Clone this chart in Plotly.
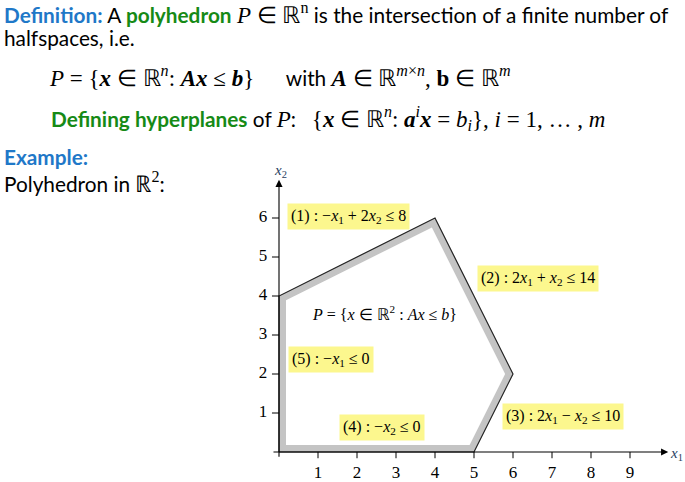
import plotly.graph_objects as go

# ---- data ----
vertex_x = [0, 0, 4, 6, 5]
vertex_y = [0, 4, 6, 2, 0]
x_ticks = [1, 2, 3, 4, 5, 6, 7, 8, 9]
y_ticks = [1, 2, 3, 4, 5, 6]
constraint_labels = [
    "(1) : −<i>x</i><sub>1</sub> + 2<i>x</i><sub>2</sub> ≤ 8",
    "(2) : 2<i>x</i><sub>1</sub> + <i>x</i><sub>2</sub> ≤ 14",
    "(3) : 2<i>x</i><sub>1</sub> − <i>x</i><sub>2</sub> ≤ 10",
    "(4) : −<i>x</i><sub>2</sub> ≤ 0",
    "(5) : −<i>x</i><sub>1</sub> ≤ 0",
]
label_spots = [(1.77, 6.05), (6.64, 4.46), (7.28, 0.92), (2.64, 0.62), (1.33, 2.36)]

BLUE = "#1F78C8"
GREEN = "#168A16"
SERIF = "Liberation Serif"
SANS = "Lato"
W, H = 685, 482
ORIGIN_PX = (279, 452)
UNIT = 39.0


def inset(xs, ys, d):
    # shift every edge of the (clockwise) polygon inward by d, intersect neighbours
    n = len(xs)
    lines = []
    for i in range(n):
        x0, y0 = xs[i], ys[i]
        x1, y1 = xs[(i + 1) % n], ys[(i + 1) % n]
        dx, dy = x1 - x0, y1 - y0
        ln = (dx * dx + dy * dy) ** 0.5
        nx, ny = dy / ln, -dx / ln
        lines.append((x0 + d * nx, y0 + d * ny, dx, dy))
    out_x, out_y = [], []
    for i in range(n):
        ax, ay, adx, ady = lines[i - 1]
        bx, by, bdx, bdy = lines[i]
        den = adx * bdy - ady * bdx
        t = ((bx - ax) * bdy - (by - ay) * bdx) / den
        out_x.append(ax + t * adx)
        out_y.append(ay + t * ady)
    return out_x, out_y


fig = go.Figure()

# gray band on the inside of the boundary
fig.add_trace(go.Scatter(x=vertex_x + vertex_x[:1], y=vertex_y + vertex_y[:1],
                         fill="toself", fillcolor="#C4C4C4", mode="none",
                         hoverinfo="skip", showlegend=False))
ix, iy = inset(vertex_x, vertex_y, 0.18)
fig.add_trace(go.Scatter(x=ix + ix[:1], y=iy + iy[:1],
                         fill="toself", fillcolor="white", mode="none",
                         hoverinfo="skip", showlegend=False))
fig.add_trace(go.Scatter(x=vertex_x + vertex_x[:1], y=vertex_y + vertex_y[:1],
                         mode="lines", line=dict(color="#222", width=1.2),
                         hoverinfo="skip", showlegend=False))

# ticks
tx, ty = [], []
for t in x_ticks:
    tx += [t, t, None]
    ty += [0, -0.16, None]
for t in y_ticks:
    tx += [0, -0.18, None]
    ty += [t, t, None]
fig.add_trace(go.Scatter(x=tx, y=ty, mode="lines", line=dict(color="black", width=1),
                         hoverinfo="skip", showlegend=False))
fig.add_trace(go.Scatter(x=x_ticks, y=[-0.57] * len(x_ticks), mode="text",
                         text=[str(t) for t in x_ticks],
                         textfont=dict(family=SERIF, size=17, color="black"),
                         hoverinfo="skip", showlegend=False))
fig.add_trace(go.Scatter(x=[-0.3] * len(y_ticks), y=y_ticks, mode="text",
                         text=[str(t) for t in y_ticks], textposition="middle left",
                         textfont=dict(family=SERIF, size=17, color="black"),
                         hoverinfo="skip", showlegend=False))

ann = []
# axes with arrow heads
ann.append(dict(x=9.98, y=0, ax=-0.18, ay=0, xref="x", yref="y", axref="x", ayref="y",
                text="", showarrow=True, arrowhead=2, arrowsize=1.3, arrowwidth=1.1,
                arrowcolor="black"))
ann.append(dict(x=0, y=6.98, ax=0, ay=-0.16, xref="x", yref="y", axref="x", ayref="y",
                text="", showarrow=True, arrowhead=2, arrowsize=1.3, arrowwidth=1.1,
                arrowcolor="black"))
ann.append(dict(x=10.2, y=-0.05, xref="x", yref="y", showarrow=False,
                text="<i>x</i><sub>1</sub>", font=dict(family=SERIF, size=15)))
ann.append(dict(x=0.05, y=7.2, xref="x", yref="y", showarrow=False,
                text="<i>x</i><sub>2</sub>", font=dict(family=SERIF, size=15)))

for txt, (lx, ly) in zip(constraint_labels, label_spots):
    ann.append(dict(x=lx, y=ly, xref="x", yref="y", showarrow=False, text=txt,
                    bgcolor="#FCF78E", borderpad=3,
                    font=dict(family=SERIF, size=16, color="black")))
ann.append(dict(x=2.71, y=3.57, xref="x", yref="y", showarrow=False,
                text="<i>P</i> = {<i>x</i> ∈ ℝ<sup>2</sup> : <i>Ax</i> ≤ <i>b</i>}",
                font=dict(family=SERIF, size=16, color="black")))


def m(s):
    return f'<span style="font-family:{SERIF};font-size:23px">{s}</span>'


slide_lines = [
    (2, 13, f'<b><span style="color:{BLUE}">Definition:</span></b> A '
            f'<b><span style="color:{GREEN}">polyhedron</span></b> '
            + m("<i>P</i> ∈ ℝ<sup>n</sup>") + " is the intersection of a finite number of"),
    (2, 38, "halfspaces, i.e."),
    (47, 76, m("<i>P</i> = {<b><i>x</i></b> ∈ ℝ<sup><i>n</i></sup>: <b><i>Ax</i></b> ≤ <b><i>b</i></b>}")
     + "      with " + m("<b><i>A</i></b> ∈ ℝ<sup><i>m</i>×<i>n</i></sup>, <b>b</b> ∈ ℝ<sup><i>m</i></sup>")),
    (49, 118, f'<b><span style="color:{GREEN}">Defining hyperplanes</span></b> of '
              + m("<i>P</i>") + ":   "
              + m("{<b><i>x</i></b> ∈ ℝ<sup><i>n</i></sup>: <b><i>a</i></b><sup><i>i</i></sup><b><i>x</i></b> = <i>b</i><sub><i>i</i></sub>}, <i>i</i> = 1, … , <i>m</i>")),
    (2, 157, f'<b><span style="color:{BLUE}">Example:</span></b>'),
    (2, 182, "Polyhedron in " + m("ℝ<sup>2</sup>") + ":"),
]
for px, py, txt in slide_lines:
    ann.append(dict(x=px / W, y=1 - py / H, xref="paper", yref="paper",
                    xanchor="left", yanchor="middle", showarrow=False, text=txt,
                    font=dict(family=SANS, size=20.8, color="black")))

fig.update_layout(
    width=W, height=H,
    margin=dict(l=0, r=0, t=0, b=0),
    paper_bgcolor="white", plot_bgcolor="white",
    xaxis=dict(range=[-ORIGIN_PX[0] / UNIT, (W - ORIGIN_PX[0]) / UNIT], visible=False,
               fixedrange=True),
    yaxis=dict(range=[-(H - ORIGIN_PX[1]) / UNIT, ORIGIN_PX[1] / UNIT], visible=False,
               fixedrange=True),
    annotations=ann,
    showlegend=False,
)

# drop the default 8px body margin so the figure sits at the page corner
fig.write_html("out.html", config={"displayModeBar": False},
               post_script="document.body.style.margin='0';")
